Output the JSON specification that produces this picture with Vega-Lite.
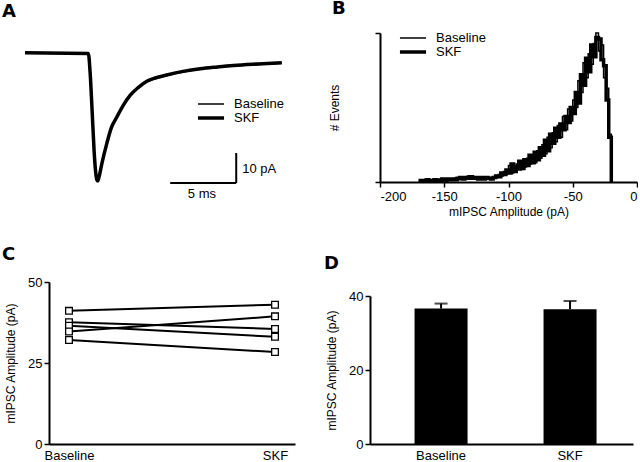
{
 "$schema": "https://vega.github.io/schema/vega-lite/v6.json",
 "padding": {"left": 2, "top": 0, "right": 0, "bottom": 0},
 "background": "white",
 "config": {
  "view": {"stroke": null},
  "font": "Liberation Sans",
  "axis": {"grid": false, "domainColor": "black", "domainWidth": 2, "tickColor": "black", "tickWidth": 1.5, "tickSize": 5, "labelColor": "black", "labelFont": "Liberation Sans", "labelFontSize": 13, "titleFont": "Liberation Sans", "titleFontSize": 12, "titleFontWeight": "normal", "titleColor": "black"},
  "title": {"font": "DejaVu Sans", "fontSize": 18, "fontWeight": "bold", "color": "black", "anchor": "start", "frame": "group", "offset": 12},
  "legend": {"labelFont": "Liberation Sans", "labelFontSize": 13, "labelColor": "black", "padding": 0, "rowPadding": -4}
 },
 "datasets": {
  "trace": [
   {"cond":"Baseline","t":0,"pA":0},{"cond":"Baseline","t":4.8,"pA":-0.2},{"cond":"Baseline","t":4.92,"pA":-6},{"cond":"Baseline","t":5.08,"pA":-19.3},{"cond":"Baseline","t":5.23,"pA":-32.7},{"cond":"Baseline","t":5.34,"pA":-39.3},{"cond":"Baseline","t":5.43,"pA":-42.1},{"cond":"Baseline","t":5.49,"pA":-42.7},{"cond":"Baseline","t":5.61,"pA":-41.3},{"cond":"Baseline","t":5.81,"pA":-37.1},{"cond":"Baseline","t":6.19,"pA":-30.4},{"cond":"Baseline","t":6.52,"pA":-25.3},{"cond":"Baseline","t":6.95,"pA":-21.6},{"cond":"Baseline","t":7.42,"pA":-17.7},{"cond":"Baseline","t":7.95,"pA":-14.3},{"cond":"Baseline","t":8.56,"pA":-11.7},{"cond":"Baseline","t":9.22,"pA":-9.6},{"cond":"Baseline","t":9.85,"pA":-8.5},{"cond":"Baseline","t":10.73,"pA":-7.5},{"cond":"Baseline","t":11.97,"pA":-6.3},{"cond":"Baseline","t":13.26,"pA":-5.4},{"cond":"Baseline","t":14.55,"pA":-4.8},{"cond":"Baseline","t":15.78,"pA":-4.3},{"cond":"Baseline","t":17.65,"pA":-3.8},{"cond":"Baseline","t":19.45,"pA":-3.4},
   {"cond":"SKF","t":0,"pA":0.1},{"cond":"SKF","t":4.8,"pA":-0.1},{"cond":"SKF","t":4.93,"pA":-6.2},{"cond":"SKF","t":5.09,"pA":-19.6},{"cond":"SKF","t":5.24,"pA":-32.9},{"cond":"SKF","t":5.35,"pA":-39.5},{"cond":"SKF","t":5.44,"pA":-42.2},{"cond":"SKF","t":5.5,"pA":-42.6},{"cond":"SKF","t":5.62,"pA":-41.1},{"cond":"SKF","t":5.82,"pA":-36.9},{"cond":"SKF","t":6.2,"pA":-30.1},{"cond":"SKF","t":6.53,"pA":-25.0},{"cond":"SKF","t":6.96,"pA":-21.3},{"cond":"SKF","t":7.43,"pA":-17.5},{"cond":"SKF","t":7.96,"pA":-14.1},{"cond":"SKF","t":8.57,"pA":-11.5},{"cond":"SKF","t":9.23,"pA":-9.4},{"cond":"SKF","t":9.86,"pA":-8.3},{"cond":"SKF","t":10.74,"pA":-7.3},{"cond":"SKF","t":11.98,"pA":-6.1},{"cond":"SKF","t":13.27,"pA":-5.2},{"cond":"SKF","t":14.56,"pA":-4.6},{"cond":"SKF","t":15.79,"pA":-4.1},{"cond":"SKF","t":17.66,"pA":-3.6},{"cond":"SKF","t":19.45,"pA":-3.2}
  ],
  "hist": [
   {"cond":"Baseline","amp":-170,"n":0.5},{"cond":"Baseline","amp":-168,"n":1},{"cond":"Baseline","amp":-166,"n":1.5},{"cond":"Baseline","amp":-164,"n":0.5},{"cond":"Baseline","amp":-162,"n":1},{"cond":"Baseline","amp":-160,"n":1.5},{"cond":"Baseline","amp":-158,"n":0.5},{"cond":"Baseline","amp":-156,"n":1},{"cond":"Baseline","amp":-154,"n":2},{"cond":"Baseline","amp":-152,"n":1},{"cond":"Baseline","amp":-150,"n":1.5},{"cond":"Baseline","amp":-148,"n":1},{"cond":"Baseline","amp":-146,"n":2},{"cond":"Baseline","amp":-144,"n":1.5},{"cond":"Baseline","amp":-142,"n":2.5},{"cond":"Baseline","amp":-140,"n":1.5},{"cond":"Baseline","amp":-138,"n":2},{"cond":"Baseline","amp":-136,"n":3},{"cond":"Baseline","amp":-134,"n":2},{"cond":"Baseline","amp":-132,"n":4},{"cond":"Baseline","amp":-130,"n":2.5},{"cond":"Baseline","amp":-128,"n":3.5},{"cond":"Baseline","amp":-126,"n":2},{"cond":"Baseline","amp":-124,"n":3.5},{"cond":"Baseline","amp":-122,"n":2.5},{"cond":"Baseline","amp":-120,"n":3},{"cond":"Baseline","amp":-118,"n":2},{"cond":"Baseline","amp":-116,"n":3},{"cond":"Baseline","amp":-114,"n":2.5},{"cond":"Baseline","amp":-112,"n":3.5},{"cond":"Baseline","amp":-110,"n":3},{"cond":"Baseline","amp":-108,"n":5},{"cond":"Baseline","amp":-106,"n":4},{"cond":"Baseline","amp":-104,"n":7},{"cond":"Baseline","amp":-102,"n":5.5},{"cond":"Baseline","amp":-100,"n":11},{"cond":"Baseline","amp":-98,"n":6},{"cond":"Baseline","amp":-96,"n":9},{"cond":"Baseline","amp":-94,"n":12},{"cond":"Baseline","amp":-92,"n":8},{"cond":"Baseline","amp":-90,"n":13},{"cond":"Baseline","amp":-88,"n":10},{"cond":"Baseline","amp":-86,"n":16},{"cond":"Baseline","amp":-84,"n":12},{"cond":"Baseline","amp":-82,"n":18},{"cond":"Baseline","amp":-80,"n":13},{"cond":"Baseline","amp":-78,"n":21},{"cond":"Baseline","amp":-76,"n":16},{"cond":"Baseline","amp":-74,"n":25},{"cond":"Baseline","amp":-72,"n":19},{"cond":"Baseline","amp":-70,"n":30},{"cond":"Baseline","amp":-68,"n":23},{"cond":"Baseline","amp":-66,"n":33},{"cond":"Baseline","amp":-64,"n":27},{"cond":"Baseline","amp":-62,"n":38},{"cond":"Baseline","amp":-60,"n":30},{"cond":"Baseline","amp":-58,"n":44},{"cond":"Baseline","amp":-56,"n":35},{"cond":"Baseline","amp":-54,"n":49},{"cond":"Baseline","amp":-52,"n":41},{"cond":"Baseline","amp":-50,"n":55},{"cond":"Baseline","amp":-48,"n":50},{"cond":"Baseline","amp":-46,"n":68},{"cond":"Baseline","amp":-44,"n":60},{"cond":"Baseline","amp":-42,"n":80},{"cond":"Baseline","amp":-40,"n":70},{"cond":"Baseline","amp":-38,"n":86},{"cond":"Baseline","amp":-36,"n":79},{"cond":"Baseline","amp":-34,"n":93},{"cond":"Baseline","amp":-32,"n":100},{"cond":"Baseline","amp":-30,"n":88},{"cond":"Baseline","amp":-28,"n":92},{"cond":"Baseline","amp":-26,"n":70},{"cond":"Baseline","amp":-24,"n":63},{"cond":"Baseline","amp":-22,"n":32},{"cond":"Baseline","amp":-20,"n":0},
   {"cond":"SKF","amp":-170,"n":1},{"cond":"SKF","amp":-168,"n":0.5},{"cond":"SKF","amp":-166,"n":1},{"cond":"SKF","amp":-164,"n":1.5},{"cond":"SKF","amp":-162,"n":0.5},{"cond":"SKF","amp":-160,"n":1},{"cond":"SKF","amp":-158,"n":1.5},{"cond":"SKF","amp":-156,"n":1},{"cond":"SKF","amp":-154,"n":1},{"cond":"SKF","amp":-152,"n":2},{"cond":"SKF","amp":-150,"n":1},{"cond":"SKF","amp":-148,"n":2},{"cond":"SKF","amp":-146,"n":1.5},{"cond":"SKF","amp":-144,"n":2},{"cond":"SKF","amp":-142,"n":1.5},{"cond":"SKF","amp":-140,"n":2.5},{"cond":"SKF","amp":-138,"n":3},{"cond":"SKF","amp":-136,"n":2},{"cond":"SKF","amp":-134,"n":3},{"cond":"SKF","amp":-132,"n":2.5},{"cond":"SKF","amp":-130,"n":3.5},{"cond":"SKF","amp":-128,"n":2.5},{"cond":"SKF","amp":-126,"n":3},{"cond":"SKF","amp":-124,"n":2},{"cond":"SKF","amp":-122,"n":3},{"cond":"SKF","amp":-120,"n":2},{"cond":"SKF","amp":-118,"n":3},{"cond":"SKF","amp":-116,"n":2.5},{"cond":"SKF","amp":-114,"n":2},{"cond":"SKF","amp":-112,"n":3},{"cond":"SKF","amp":-110,"n":4},{"cond":"SKF","amp":-108,"n":3.5},{"cond":"SKF","amp":-106,"n":6},{"cond":"SKF","amp":-104,"n":5},{"cond":"SKF","amp":-102,"n":8},{"cond":"SKF","amp":-100,"n":6},{"cond":"SKF","amp":-98,"n":12},{"cond":"SKF","amp":-96,"n":7},{"cond":"SKF","amp":-94,"n":10},{"cond":"SKF","amp":-92,"n":14},{"cond":"SKF","amp":-90,"n":9},{"cond":"SKF","amp":-88,"n":15},{"cond":"SKF","amp":-86,"n":11},{"cond":"SKF","amp":-84,"n":18},{"cond":"SKF","amp":-82,"n":13},{"cond":"SKF","amp":-80,"n":20},{"cond":"SKF","amp":-78,"n":15},{"cond":"SKF","amp":-76,"n":23},{"cond":"SKF","amp":-74,"n":18},{"cond":"SKF","amp":-72,"n":28},{"cond":"SKF","amp":-70,"n":21},{"cond":"SKF","amp":-68,"n":32},{"cond":"SKF","amp":-66,"n":26},{"cond":"SKF","amp":-64,"n":36},{"cond":"SKF","amp":-62,"n":30},{"cond":"SKF","amp":-60,"n":39},{"cond":"SKF","amp":-58,"n":35},{"cond":"SKF","amp":-56,"n":44},{"cond":"SKF","amp":-54,"n":40},{"cond":"SKF","amp":-52,"n":50},{"cond":"SKF","amp":-50,"n":46},{"cond":"SKF","amp":-48,"n":60},{"cond":"SKF","amp":-46,"n":53},{"cond":"SKF","amp":-44,"n":72},{"cond":"SKF","amp":-42,"n":65},{"cond":"SKF","amp":-40,"n":83},{"cond":"SKF","amp":-38,"n":74},{"cond":"SKF","amp":-36,"n":92},{"cond":"SKF","amp":-34,"n":84},{"cond":"SKF","amp":-32,"n":97},{"cond":"SKF","amp":-30,"n":96},{"cond":"SKF","amp":-28,"n":82},{"cond":"SKF","amp":-26,"n":78},{"cond":"SKF","amp":-24,"n":55},{"cond":"SKF","amp":-22,"n":30},{"cond":"SKF","amp":-20,"n":0}
  ],
  "cells": [
   {"cell":1,"cond":"Baseline","amp":41.1},{"cell":1,"cond":"SKF","amp":43.0},
   {"cell":2,"cond":"Baseline","amp":37.6},{"cell":2,"cond":"SKF","amp":35.5},
   {"cell":3,"cond":"Baseline","amp":36.5},{"cell":3,"cond":"SKF","amp":33.1},
   {"cell":4,"cond":"Baseline","amp":34.7},{"cell":4,"cond":"SKF","amp":39.4},
   {"cell":5,"cond":"Baseline","amp":32.1},{"cell":5,"cond":"SKF","amp":28.4}
  ],
  "bars": [
   {"cond":"Baseline","mean":36.6,"upper":37.95},
   {"cond":"SKF","mean":36.4,"upper":38.65}
  ]
 },
 "spacing": 29,
 "resolve": {"scale": {"strokeWidth": "independent"}, "legend": {"strokeWidth": "independent"}},
 "vconcat": [
  {
   "spacing": 28,
   "resolve": {"scale": {"strokeWidth": "independent"}, "legend": {"strokeWidth": "independent"}},
   "hconcat": [
    {
     "width": 251, "height": 150,
     "title": {"text": "A", "dx": -47},
     "layer": [
      {
       "data": {"name": "trace"},
       "mark": {"type": "line", "color": "black", "interpolate": "monotone"},
       "encoding": {
        "x": {"field": "t", "type": "quantitative", "scale": {"domain": [1.82, 20.83], "nice": false, "zero": false}, "axis": null},
        "y": {"field": "pA", "type": "quantitative", "scale": {"domain": [-43.3, 6.7], "nice": false, "zero": false}, "axis": null},
        "strokeWidth": {"field": "cond", "type": "nominal", "scale": {"domain": ["Baseline", "SKF"], "range": [1.5, 3.5]},
          "legend": {"orient": "none", "legendX": 155.5, "legendY": 64.5, "title": null, "symbolType": "M-2.9,0H2.9", "symbolSize": 81, "symbolStrokeColor": "black", "labelOffset": 16.5}}
       }
      },
      {"data": {"values": [{}]}, "mark": {"type": "rule", "color": "black", "strokeWidth": 2}, "encoding": {"x": {"datum": 11, "type": "quantitative"}, "x2": {"datum": 16}, "y": {"datum": -43.3, "type": "quantitative"}}},
      {"data": {"values": [{}]}, "mark": {"type": "rule", "color": "black", "strokeWidth": 2}, "encoding": {"x": {"datum": 16, "type": "quantitative"}, "y": {"datum": -43.3, "type": "quantitative"}, "y2": {"datum": -33.3}}},
      {"data": {"values": [{}]}, "mark": {"type": "text", "align": "left", "baseline": "middle", "fontSize": 13, "color": "black"}, "encoding": {"x": {"datum": 16.45, "type": "quantitative"}, "y": {"datum": -38.5, "type": "quantitative"}, "text": {"value": "10 pA"}}},
      {"data": {"values": [{}]}, "mark": {"type": "text", "align": "center", "baseline": "middle", "fontSize": 13, "color": "black"}, "encoding": {"x": {"datum": 13.4, "type": "quantitative"}, "y": {"datum": -46.9, "type": "quantitative"}, "text": {"value": "5 ms"}}}
     ]
    },
    {
     "width": 257, "height": 149,
     "title": {"text": "B", "dx": -48},
     "data": {"name": "hist"},
     "mark": {"type": "line", "interpolate": "step-after", "color": "black"},
     "encoding": {
      "x": {"field": "amp", "type": "quantitative", "scale": {"domain": [-200, 0], "nice": false},
        "axis": {"values": [-200, -150, -100, -50, 0], "title": "mIPSC Amplitude (pA)", "labelPadding": 3, "titlePadding": 3, "labelExpr": "replace(datum.label, '−', '-')"}},
      "y": {"field": "n", "type": "quantitative", "scale": {"domain": [0, 100], "nice": false},
        "axis": {"values": [0, 100], "labels": false, "title": "# Events", "titlePadding": 33}},
      "strokeWidth": {"field": "cond", "type": "nominal", "scale": {"domain": ["Baseline", "SKF"], "range": [1.5, 3.5]},
        "legend": {"orient": "none", "legendX": 26.5, "legendY": -1.5, "title": null, "symbolType": "M-2.9,0H2.9", "symbolSize": 81, "symbolStrokeColor": "black", "labelOffset": 16.5}}
     }
    }
   ]
  },
  {
   "spacing": 29,
   "hconcat": [
    {
     "width": 246, "height": 162,
     "title": {"text": "C", "dx": -47, "offset": 12},
     "data": {"name": "cells"},
     "encoding": {
      "x": {"field": "cond", "type": "nominal", "scale": {"type": "point", "padding": 0.097}, "axis": {"title": null, "labelAngle": 0, "ticks": false, "labelPadding": 5}},
      "y": {"field": "amp", "type": "quantitative", "scale": {"domain": [0, 50], "nice": false}, "axis": {"values": [0, 25, 50], "title": "mIPSC Amplitude (pA)", "titlePadding": 10}}
     },
     "layer": [
      {"mark": {"type": "line", "color": "black", "strokeWidth": 2}, "encoding": {"detail": {"field": "cell", "type": "nominal"}}},
      {"mark": {"type": "point", "shape": "square", "filled": true, "fill": "white", "stroke": "black", "strokeWidth": 1.3, "size": 45, "opacity": 1}}
     ]
    },
    {
     "width": 263, "height": 162,
     "title": {"text": "D", "dx": -46, "offset": 9},
     "data": {"name": "bars"},
     "encoding": {
      "x": {"field": "cond", "type": "nominal", "scale": {"type": "band", "paddingInner": 0.589, "paddingOuter": 0.314, "align": 0.55}, "axis": {"title": null, "labelAngle": 0, "ticks": false, "labelPadding": 5}}
     },
     "layer": [
      {"mark": {"type": "bar", "color": "black"}, "encoding": {"y": {"field": "mean", "type": "quantitative", "scale": {"domain": [0, 40], "nice": false, "range": [162, 14]}, "axis": {"values": [0, 20, 40], "title": "mIPSC Amplitude (pA)", "titlePadding": 10}}}},
      {"mark": {"type": "rule", "color": "black", "strokeWidth": 2}, "encoding": {"y": {"field": "mean", "type": "quantitative"}, "y2": {"field": "upper"}}},
      {"mark": {"type": "tick", "color": "black", "size": 13, "thickness": 2}, "encoding": {"y": {"field": "upper", "type": "quantitative"}}}
     ]
    }
   ]
  }
 ]
}
